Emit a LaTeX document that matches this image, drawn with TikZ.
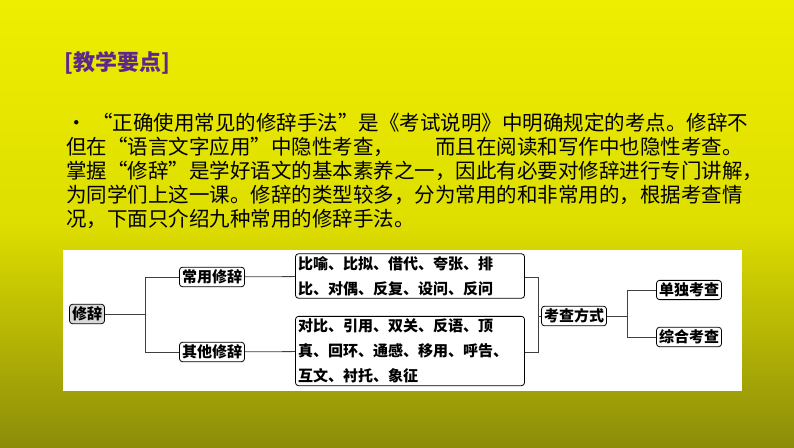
\documentclass[tikz,border=0pt]{standalone}
\usepackage{fontspec}
\setmainfont{Noto Sans CJK SC}
\usetikzlibrary{positioning}
\definecolor{titlepurple}{RGB}{92,40,140}
\definecolor{bgtop}{RGB}{238,238,0}
\definecolor{bgmid}{RGB}{222,222,0}
\definecolor{bgbot}{RGB}{140,140,10}
\begin{document}
\begin{tikzpicture}[
  x=1pt, y=-1pt,
  txt/.style = {anchor=base west, inner sep=0pt, font=\fontsize{20.5}{24}\selectfont},
  leaf/.style = {draw, thick, rounded corners=3pt, fill=white, inner sep=2.5pt, font=\bfseries\fontsize{15}{18}\selectfont},
  listbox/.style = {leaf, align=left, text width=224pt, font=\bfseries\fontsize{15}{25}\selectfont},
  link/.style = {thick, draw=black!75}
]
\useasboundingbox (0,0) rectangle (794,447);
% background
\shade[top color=bgtop, bottom color=bgbot, middle color=bgmid] (0,0) rectangle (794,447);

% title and text
\node[txt, text=titlepurple, font=\bfseries\fontsize{22}{26}\selectfont] (title) at (64,70) {[教学要点]};
\node[txt] (bullet) at (66,130) {•};
\node[txt] (line1) at (92,130) {“正确使用常见的修辞手法”是《考试说明》中明确规定的考点。修辞不};
\node[txt] (line2) at (66,154) {但在“语言文字应用”中隐性考查，\hspace{2em}而且在阅读和写作中也隐性考查。};
\node[txt] (line3) at (66,178) {掌握“修辞”是学好语文的基本素养之一，因此有必要对修辞进行专门讲解，};
\node[txt] (line4) at (66,202) {为同学们上这一课。修辞的类型较多，分为常用的和非常用的，根据考查情};
\node[txt] (line5) at (66,226) {况，下面只介绍九种常用的修辞手法。};

% diagram panel
\fill[white] (63,250) rectangle (742,391);

\node[leaf, fill=black!15] (root) at (87,314) {修辞};
\node[leaf] (common) at (212,277) {常用修辞};
\node[leaf] (other) at (212,352) {其他修辞};
\node[listbox] (clist) at (410,276) {比喻、比拟、借代、夸张、排\\比、对偶、反复、设问、反问};
\node[listbox] (olist) at (410,351) {对比、引用、双关、反语、顶\\真、回环、通感、移用、呼告、\\互文、衬托、象征};
\node[leaf] (mode) at (574,316) {考查方式};
\node[leaf] (single) at (689,290) {单独考查};
\node[leaf] (mixed) at (689,337) {综合考查};

\coordinate (splitA) at (145,314);
\coordinate (joinB) at (538,316);
\coordinate (splitC) at (627,316);

\draw[link] (root) -- (splitA);
\draw[link] (splitA) |- (common);
\draw[link] (splitA) |- (other);
\draw[link] (common) -- (clist);
\draw[link] (other) -- (olist);
\draw[link] (clist.east |- common) -| (joinB);
\draw[link] (olist.east |- other) -| (joinB);
\draw[link] (joinB) -- (mode);
\draw[link] (mode) -- (splitC);
\draw[link] (splitC) |- (single);
\draw[link] (splitC) |- (mixed);
\end{tikzpicture}
\end{document}
